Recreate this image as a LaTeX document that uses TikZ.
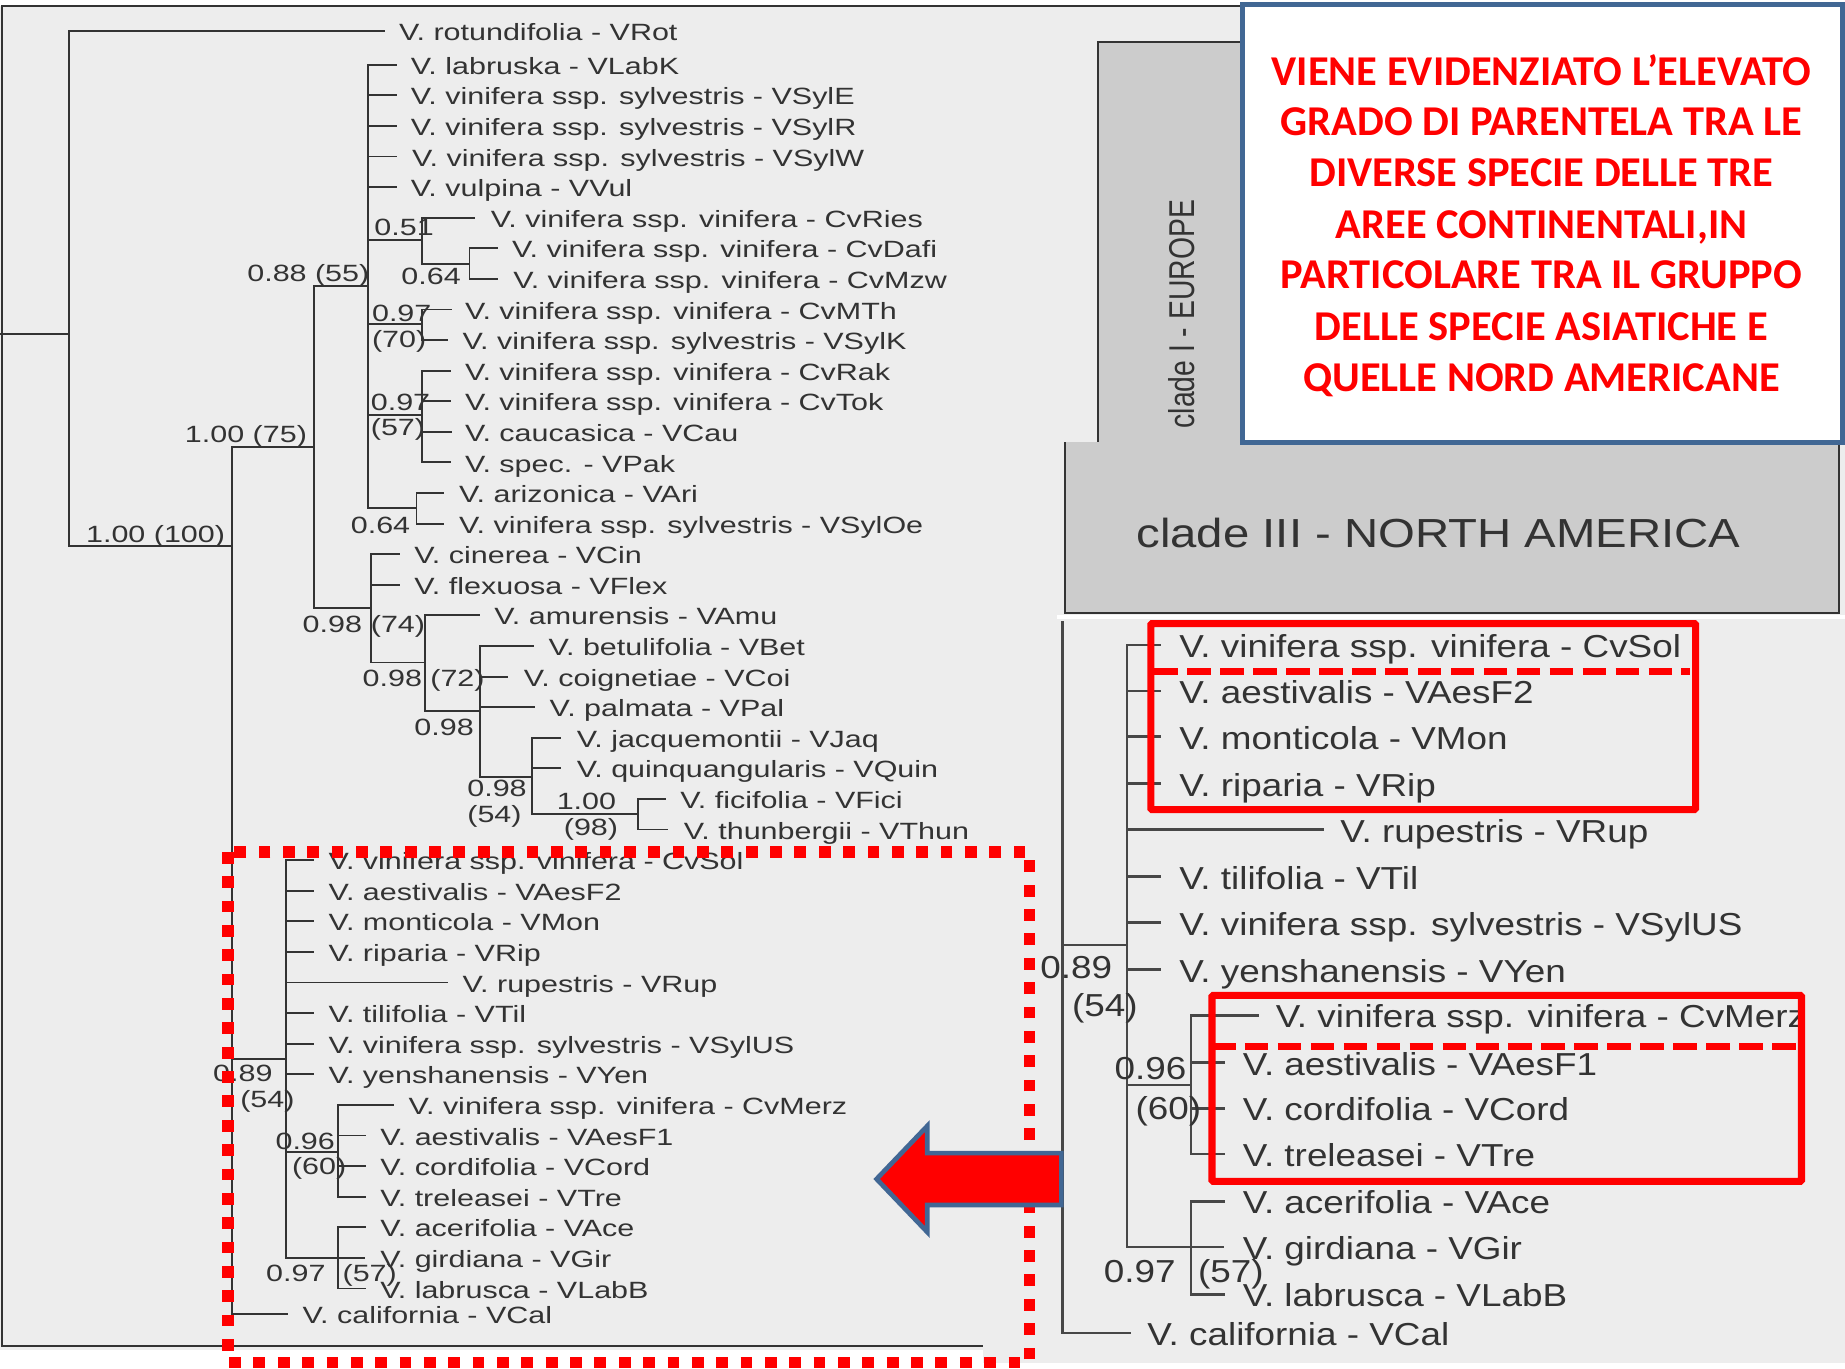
\documentclass[tikz,border=0pt]{standalone}
\usepackage{fontspec}
\setmainfont{Liberation Sans}
\newfontfamily\treefontL[FakeStretch=1.295]{Liberation Sans}
\newfontfamily\treefontR[FakeStretch=1.16]{Liberation Sans}
\newfontfamily\cladeoneF[FakeStretch=0.79]{Liberation Sans}
\newfontfamily\cladethreeF[FakeStretch=1.166]{Liberation Sans}
\newfontfamily\noteF{Carlito}
\definecolor{ink}{HTML}{333333}
\definecolor{paper}{HTML}{EDEDED}
\definecolor{cladegray}{HTML}{CCCCCC}
\definecolor{steel}{HTML}{416794}
\definecolor{alarm}{HTML}{FF0000}
\newcommand{\Jn}[4]{\coordinate (#2) at (#3,#4); \draw[br] (#1) |- (#2);}
\newcommand{\Lf}[6]{\coordinate (#2e) at (#3,#5); \draw[br] (#1) |- (#2e); \node[lbl] (#2) at (#4,#5) {V. #6};}
\newcommand{\Bt}[4]{\node[lbl] (#1) at (#2,#3) {#4};}
\begin{document}
\begin{tikzpicture}[x=1pt,y=-1pt,
  leftT/.style={br/.style={draw=ink,line width=1.6pt},
    lbl/.style={anchor=west,inner sep=0pt,yshift=-1pt,text=ink,text height=14.3pt,text depth=0pt,font=\treefontL\fontsize{20}{22}\selectfont}},
  rightT/.style={br/.style={draw=ink!90!white,line width=2pt},
    lbl/.style={anchor=west,inner sep=0pt,yshift=-1pt,text=ink,text height=19.3pt,text depth=0pt,font=\treefontR\fontsize{27}{29}\selectfont}},
  redbox/.style={draw=alarm,line width=6pt,rounded corners=1pt},
  reddash/.style={draw=alarm,line width=6pt,dash pattern=on 20pt off 8pt},
  reddot/.style={draw=alarm,line width=10pt,dash pattern=on 10pt off 10.7pt}]
\useasboundingbox (0,0) rectangle (1568,1163.4);
% backgrounds
\fill[paper] (0,5) rectangle (1568,1147);
\fill[paper] (835,1147) rectangle (1568,1158);
\draw[ink,line width=1.8pt] (1055,5) -- (2,5) -- (2,1144) -- (835,1144);
% clade boxes
\draw[draw=ink,fill=cladegray,line width=1.6pt] (933,376) -- (933,36) -- (1060,36) -- (1060,376);
\node[rotate=90,inner sep=0pt,text=ink,font=\cladeoneF\fontsize{30.5}{32}\selectfont] (cladeI) at (1004,267) {clade I - EUROPE};
\draw[draw=ink,fill=cladegray,line width=2pt] (905,376) -- (905,521) -- (1563,521) -- (1563,376);
\node[inner sep=0pt,text=ink,font=\cladethreeF\fontsize{34.5}{36}\selectfont] (cladeIII) at (1222.5,453) {clade III - NORTH AMERICA};
\fill[white] (898,522.5) rectangle (1568,526);
% left tree
\begin{scope}[leftT]
\coordinate (r0) at (0,284);
\coordinate (a) at (59,284);
\draw[br] (r0) -- (a);
\Lf{a}{rot}{327}{339}{26}{rotundifolia - VRot}
\Jn{a}{b}{197}{464}
\Jn{b}{c}{267}{380}
\Jn{c}{d}{313}{243}
\Lf{d}{lab}{337}{349}{55}{labruska - VLabK}
\Lf{d}{sye}{337}{349}{81}{vinifera ssp. sylvestris - VSylE}
\Lf{d}{syr}{337}{349}{107}{vinifera ssp. sylvestris - VSylR}
\Lf{d}{syw}{337}{350}{133}{vinifera ssp. sylvestris - VSylW}
\Lf{d}{vul}{337}{349}{159}{vulpina - VVul}
\Jn{d}{f}{359}{204}
\Lf{f}{ries}{404}{417}{185}{vinifera ssp. vinifera - CvRies}
\Jn{f}{g}{399}{224}
\Lf{g}{dafi}{423}{435}{211}{vinifera ssp. vinifera - CvDafi}
\Lf{g}{mzw}{423}{436}{237}{vinifera ssp. vinifera - CvMzw}
\Jn{d}{h}{359}{275}
\Lf{h}{mth}{384}{395}{263}{vinifera ssp. vinifera - CvMTh}
\Lf{h}{syk}{381}{393}{289}{vinifera ssp. sylvestris - VSylK}
\Jn{d}{i}{359}{353}
\Lf{i}{rak}{383}{395}{315}{vinifera ssp. vinifera - CvRak}
\Lf{i}{tok}{383}{395}{341}{vinifera ssp. vinifera - CvTok}
\Lf{i}{cau}{384}{395}{367}{caucasica - VCau}
\Lf{i}{pak}{383}{395}{393}{spec. - VPak}
\Jn{d}{k}{354}{432}
\Lf{k}{ari}{377}{390}{419}{arizonica - VAri}
\Lf{k}{syo}{377}{390}{445}{vinifera ssp. sylvestris - VSylOe}
\Jn{c}{e}{315}{517}
\Lf{e}{cin}{340}{352}{471}{cinerea - VCin}
\Lf{e}{fle}{340}{352}{497}{flexuosa - VFlex}
\Jn{e}{m}{361}{563}
\Lf{m}{amu}{408}{420}{523}{amurensis - VAmu}
\Jn{m}{n}{408}{604}
\Lf{n}{bet}{454}{466}{549}{betulifolia - VBet}
\Lf{n}{coi}{432}{445}{575}{coignetiae - VCoi}
\Lf{n}{pal}{455}{467}{601}{palmata - VPal}
\Jn{n}{o}{452}{660}
\Lf{o}{jaq}{477}{490}{627}{jacquemontii - VJaq}
\Lf{o}{qui}{477}{490}{653}{quinquangularis - VQuin}
\Jn{o}{p}{542}{692}
\Lf{p}{fic}{566}{578}{679}{ficifolia - VFici}
\Lf{p}{thu}{568}{581}{705}{thunbergii - VThun}
\Jn{b}{q}{243}{900}
\Lf{q}{sol}{267}{279}{731}{vinifera ssp. vinifera - CvSol}
\Lf{q}{aef}{267}{279}{757}{aestivalis - VAesF2}
\Lf{q}{mon}{267}{279}{783}{monticola - VMon}
\Lf{q}{rip}{267}{279}{809}{riparia - VRip}
\Lf{q}{rup}{381}{393}{835}{rupestris - VRup}
\Lf{q}{til}{267}{279}{861}{tilifolia - VTil}
\Lf{q}{syu}{267}{279}{887}{vinifera ssp. sylvestris - VSylUS}
\Lf{q}{yen}{267}{279}{913}{yenshanensis - VYen}
\Jn{q}{s}{287}{979}
\Lf{s}{mer}{335}{347}{939}{vinifera ssp. vinifera - CvMerz}
\Lf{s}{aes}{311}{323}{965}{aestivalis - VAesF1}
\Lf{s}{cor}{311}{323}{991}{cordifolia - VCord}
\Lf{s}{tre}{311}{323}{1017}{treleasei - VTre}
\Jn{q}{t}{287}{1069}
\Lf{t}{ace}{311}{323}{1043}{acerifolia - VAce}
\Lf{t}{gir}{310}{323}{1069}{girdiana - VGir}
\Lf{t}{lbb}{311}{323}{1095}{labrusca - VLabB}
\Lf{b}{cal}{245}{257}{1117}{california - VCal}
\Bt{b1}{318}{192}{0.51}
\Bt{b2}{210}{231}{0.88 (55)}
\Bt{b3}{341}{234}{0.64}
\Bt{b4}{316}{265}{0.97}
\Bt{b5}{316}{287}{(70)}
\Bt{b6}{315}{341}{0.97}
\Bt{b7}{315}{362}{(57)}
\Bt{b8}{157}{368}{1.00 (75)}
\Bt{b9}{298}{445}{0.64}
\Bt{b10}{73}{453}{1.00 (100)}
\Bt{b11}{257}{529}{0.98}
\Bt{b12}{315}{529}{(74)}
\Bt{b13}{308}{575}{0.98 (72)}
\Bt{b14}{352}{617}{0.98}
\Bt{b15}{397}{669}{0.98}
\Bt{b16}{397}{691}{(54)}
\Bt{b17}{473}{680}{1.00}
\Bt{b18}{479}{702}{(98)}
\Bt{b19}{181}{911}{0.89}
\Bt{b20}{204}{933}{(54)}
\Bt{b21}{234}{969}{0.96}
\Bt{b22}{248}{990}{(60)}
\Bt{b23}{226}{1081}{0.97}
\Bt{b24}{291}{1081}{(57)}
\end{scope}
% right tree
\begin{scope}[rightT]
\coordinate (Rtop) at (903,528);
\coordinate (Rb) at (903,803);
\draw[br] (Rtop) -- (Rb);
\Lf{Rb}{Rcal}{961}{975}{1133}{california - VCal}
\Jn{Rb}{Rq}{958}{803}
\Lf{Rq}{Rsol}{987}{1002}{548}{vinifera ssp. vinifera - CvSol}
\Lf{Rq}{Raef}{987}{1002}{587}{aestivalis - VAesF2}
\Lf{Rq}{Rmon}{987}{1002}{626}{monticola - VMon}
\Lf{Rq}{Rrip}{987}{1002}{666}{riparia - VRip}
\Lf{Rq}{Rrup}{1125}{1139}{705}{rupestris - VRup}
\Lf{Rq}{Rtil}{987}{1002}{745}{tilifolia - VTil}
\Lf{Rq}{Rsyu}{987}{1002}{784}{vinifera ssp. sylvestris - VSylUS}
\Lf{Rq}{Ryen}{987}{1002}{824}{yenshanensis - VYen}
\Jn{Rq}{Rs}{1012}{922}
\Lf{Rs}{Rmer}{1070}{1084}{863}{vinifera ssp. vinifera - CvMerz}
\Lf{Rs}{Raes}{1041}{1056}{903}{aestivalis - VAesF1}
\Lf{Rs}{Rcor}{1041}{1056}{942}{cordifolia - VCord}
\Lf{Rs}{Rtre}{1041}{1056}{981}{treleasei - VTre}
\Jn{Rq}{Rt}{1012}{1060}
\Lf{Rt}{Race}{1041}{1056}{1021}{acerifolia - VAce}
\Lf{Rt}{Rgir}{1040}{1056}{1060}{girdiana - VGir}
\Lf{Rt}{Rlbb}{1041}{1056}{1100}{labrusca - VLabB}
\Bt{Rb1}{884}{821}{0.89}
\Bt{Rb2}{911}{853}{(54)}
\Bt{Rb3}{947}{907}{0.96}
\Bt{Rb4}{965}{941}{(60)}
\Bt{Rb5}{938}{1079}{0.97}
\Bt{Rb6}{1018}{1079}{(57)}
\end{scope}
% highlight boxes
\draw[redbox] (978,530) rectangle (1441,688);
\draw[reddash] (981,571) -- (1436,571);
\draw[redbox] (1030,846) rectangle (1531,1004);
\draw[reddash] (1030,889) -- (1531,889);
\draw[reddot] (194,724) rectangle (875,1158);
% arrow
\draw[draw=steel,fill=alarm,line width=4pt,miter limit=10]
  (902,980) -- (788,980) -- (788,957) -- (745,1002) -- (788,1047) -- (788,1024) -- (902,1024) -- cycle;
% note
\node[draw=steel,fill=white,line width=4pt,outer sep=0pt,minimum width=510pt,minimum height=372pt,inner sep=0pt,anchor=north west] (notebox) at (1056,4) {};
\foreach \ty/\tx in {61/{VIENE EVIDENZIATO L’ELEVATO},104/{GRADO DI PARENTELA TRA LE},147/{DIVERSE SPECIE DELLE TRE},191/{AREE CONTINENTALI,IN},234/{PARTICOLARE TRA IL GRUPPO},278/{DELLE SPECIE ASIATICHE E},321/{QUELLE NORD AMERICANE}}{
  \node[inner sep=0pt,text=alarm,text height=23pt,text depth=0pt,font=\noteF\bfseries\fontsize{36.1}{38}\selectfont] (note\ty) at (1310,\ty) {\tx};
}
\end{tikzpicture}
\end{document}
